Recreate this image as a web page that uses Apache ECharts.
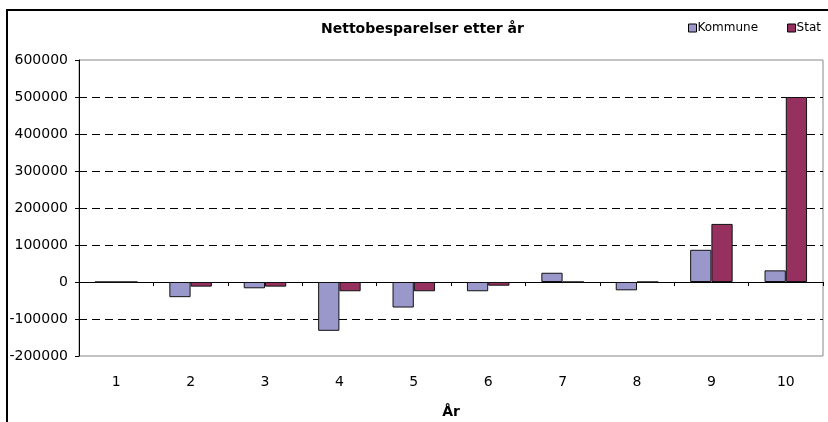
<!DOCTYPE html>
<html>
<head>
<meta charset="utf-8">
<script src="https://cdn.jsdelivr.net/npm/echarts@6/dist/echarts.min.js"></script>
<style>html,body{margin:0;padding:0;background:#fff;}#c{width:828px;height:422px;}</style>
</head>
<body>
<div id="c"></div>
<script>
const categories = ['1','2','3','4','5','6','7','8','9','10'];
const kommune = [0, -41000, -17000, -132000, -69000, -25000, 25000, -22500, 87000, 31500];
const stat = [0, -12500, -12500, -25000, -25000, -10000, 0, 0, 157000, 500000];
const yTicks = { min: -200000, max: 600000, interval: 100000 };
const titleText = 'Nettobesparelser etter år';
const xName = 'År';

const FONT = '"DejaVu Sans", "Liberation Sans", Arial, sans-serif';
const chart = echarts.init(document.getElementById('c'), null, { renderer: 'canvas' });
chart.setOption({
  animation: false,
  backgroundColor: '#fff',
  title: {
    text: titleText, left: 321, top: 22, padding: 0,
    textStyle: { fontFamily: FONT, fontSize: 14, fontWeight: 'bold', color: '#000' }
  },
  legend: {
    left: 688, top: 22, padding: 0, itemWidth: 8, itemHeight: 8, itemGap: 29,
    icon: 'rect',
    itemStyle: { borderColor: '#000', borderWidth: 1 },
    textStyle: { fontFamily: FONT, fontSize: 12, color: '#000', padding: [0,0,0,-4] },
    data: ['Kommune', 'Stat']
  },
  grid: {
    left: 79, right: 5, top: 60, bottom: 66, show: true,
    outerBoundsMode: 'none', containLabel: false,
    borderColor: '#888', borderWidth: 1, backgroundColor: '#fff'
  },
  graphic: [{
    type: 'polyline', silent: true, z: 100,
    shape: { points: [[7, 422], [7, 10], [828, 10]] },
    style: { stroke: '#000', lineWidth: 2, fill: null }
  }],
  xAxis: [{
    type: 'category', data: categories, position: 'bottom',
    axisLine: { onZero: false, show: false },
    axisTick: { show: false },
    axisLabel: { margin: 19, fontFamily: FONT, fontSize: 14, color: '#000' },
    name: xName, nameLocation: 'middle', nameGap: 49,
    nameTextStyle: { fontFamily: FONT, fontSize: 14, fontWeight: 'bold', color: '#000' }
  }, {
    type: 'category', data: categories, position: 'top',
    axisLine: { onZero: true, lineStyle: { color: '#000', width: 1 } },
    axisTick: { show: true, inside: true, length: 4, lineStyle: { color: '#000' } },
    axisLabel: { show: false }
  }],
  yAxis: {
    type: 'value', min: yTicks.min, max: yTicks.max, interval: yTicks.interval,
    axisLine: { show: true, lineStyle: { color: '#000', width: 1 } },
    axisTick: { show: true, length: 4, lineStyle: { color: '#000' } },
    axisLabel: { margin: 11, fontFamily: FONT, fontSize: 14, color: '#000', formatter: v => String(v) },
    splitLine: {
      show: true, showMinLine: false, showMaxLine: false,
      lineStyle: { color: '#000', type: [8, 5], width: 1 }
    }
  },
  series: [{
    name: 'Kommune', type: 'bar', data: kommune, xAxisIndex: 0,
    barGap: '0%', barCategoryGap: '42.86%',
    itemStyle: { color: '#9A98CB', borderColor: '#111', borderWidth: 1 }
  }, {
    name: 'Stat', type: 'bar', data: stat, xAxisIndex: 0,
    barGap: '0%', barCategoryGap: '42.86%',
    itemStyle: { color: '#96305F', borderColor: '#111', borderWidth: 1 }
  }]
});
</script>
</body>
</html>
